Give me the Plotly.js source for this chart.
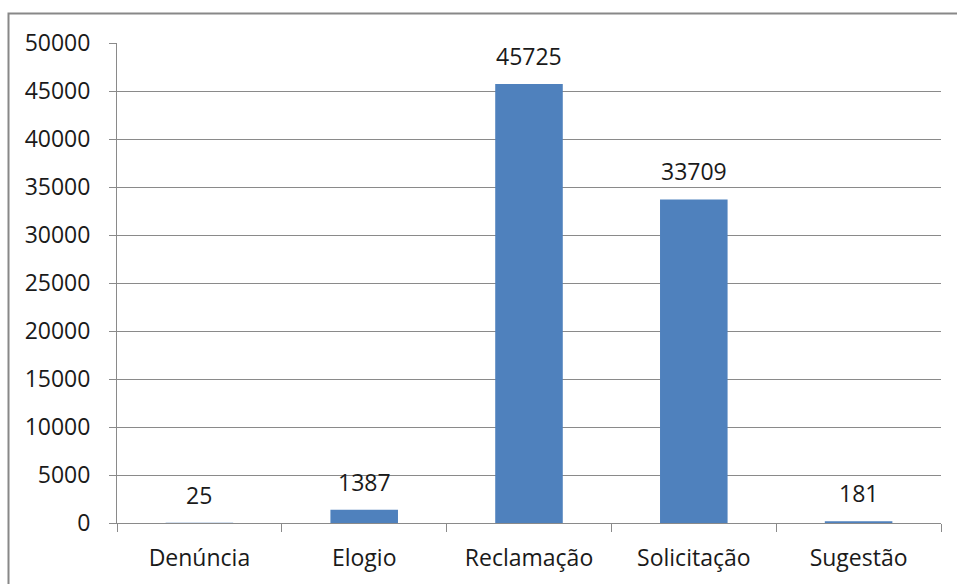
<!DOCTYPE html>
<html>
<head>
<meta charset="utf-8">
<script src="https://cdn.plot.ly/plotly-3.0.1.min.js"></script>
<style>
html,body{margin:0;padding:0;background:#fff;overflow:hidden;}
#chart{width:957px;height:584px;}
</style>
</head>
<body>
<div id="chart"></div>
<script>
const categories = ["Denúncia", "Elogio", "Reclamação", "Solicitação", "Sugestão"];
const values = [25, 1387, 45725, 33709, 181];
const yTicks = [0, 5000, 10000, 15000, 20000, 25000, 30000, 35000, 40000, 45000, 50000];

const font = {family: "Open Sans, Noto Sans, sans-serif", size: 23, color: "#1a1a1a"};
const gridColor = "#8a8a8a";

const trace = {
  type: "bar",
  x: categories,
  y: values,
  marker: {color: "#4F81BD", line: {width: 0}},
  hoverinfo: "none"
};

const annotations = categories.map((c, i) => ({
  x: c, y: values[i], xref: "x", yref: "y",
  text: String(values[i]), showarrow: false,
  yanchor: "middle", yshift: 28, font: font
}));

const layout = {
  width: 957, height: 584,
  margin: {l: 117, r: 16, t: 43, b: 61},
  paper_bgcolor: "#fff", plot_bgcolor: "#fff",
  showlegend: false,
  bargap: 0.59,
  font: font,
  xaxis: {
    type: "category",
    tickson: "boundaries",
    ticks: "outside", ticklen: 8, tickcolor: gridColor, tickwidth: 1,
    showline: true, linecolor: gridColor, linewidth: 1,
    showgrid: false, zeroline: false,
    tickfont: font, ticklabelstandoff: 14,
    fixedrange: true
  },
  yaxis: {
    range: [0, 50000],
    tickvals: yTicks, ticktext: yTicks.map(String),
    ticks: "outside", ticklen: 7, tickcolor: gridColor, tickwidth: 1,
    showline: true, linecolor: gridColor, linewidth: 1,
    showgrid: true, gridcolor: gridColor, gridwidth: 1,
    zeroline: false,
    tickfont: font, ticklabelstandoff: 14,
    fixedrange: true
  },
  annotations: annotations,
  shapes: [{
    type: "rect", xref: "paper", yref: "paper",
    x0: (8.5 - 117) / 824, x1: (965 - 117) / 824,
    y0: (523 - 600) / 480, y1: (523 - 13.5) / 480,
    line: {color: "#888888", width: 2}, fillcolor: "rgba(0,0,0,0)",
    layer: "below"
  }]
};

Plotly.newPlot("chart", [trace], layout, {displayModeBar: false, staticPlot: true});
</script>
</body>
</html>
